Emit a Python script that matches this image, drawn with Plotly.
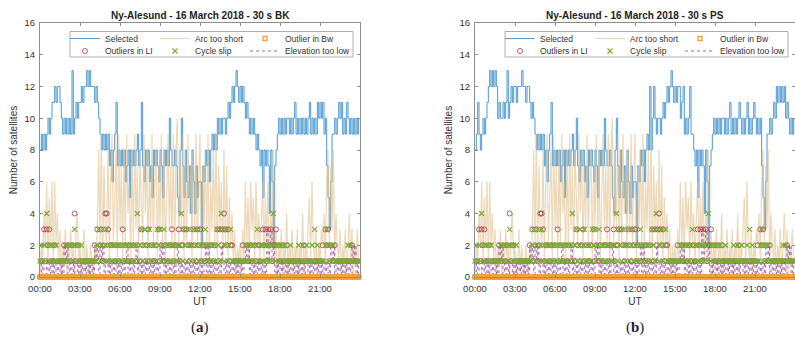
import pandas as pd
import plotly.graph_objects as go

# ---------------------------------------------------------------------------
# Data: satellite counts per 6-minute epoch, 16 March 2018, Ny-Alesund
# (10 values per hour, one row per hour)
# ---------------------------------------------------------------------------
sel_bk = [
    8, 9, 8, 9, 8, 9, 10, 9, 10, 11,
    11, 12, 11, 12, 12, 11, 10, 9, 10, 9,
    10, 9, 10, 9, 13, 9, 10, 11, 10, 11,
    11, 12, 11, 12, 12, 13, 12, 13, 12, 12,
    12, 11, 12, 11, 10, 9, 8, 9, 8, 9,
    8, 9, 7, 8, 6, 8, 9, 11, 7, 8,
    7, 8, 7, 8, 6, 7, 8, 5, 8, 7,
    8, 7, 8, 9, 7, 8, 11, 7, 6, 8,
    7, 8, 6, 7, 5, 8, 7, 8, 7, 6,
    8, 7, 5, 8, 7, 8, 7, 10, 8, 7,
    7, 8, 7, 5, 4, 8, 10, 7, 5, 8,
    6, 5, 7, 4, 8, 6, 4, 7, 5, 6,
    6, 2, 7, 6, 8, 7, 8, 6, 8, 9,
    8, 9, 8, 10, 9, 10, 9, 10, 10, 9,
    10, 11, 10, 11, 12, 11, 12, 13, 12, 11,
    12, 11, 12, 11, 10, 11, 10, 9, 10, 9,
    10, 9, 8, 9, 8, 7, 8, 5, 8, 7,
    8, 7, 4, 8, 6, 2, 7, 8, 9, 10,
    9, 10, 9, 10, 9, 10, 10, 9, 10, 9,
    10, 11, 9, 10, 9, 10, 9, 10, 9, 10,
    9, 10, 11, 9, 10, 9, 10, 9, 11, 10,
    11, 10, 11, 9, 10, 7, 5, 3, 6, 9,
    9, 10, 9, 10, 11, 10, 11, 9, 10, 9,
    11, 10, 9, 10, 9, 10, 9, 10, 9, 10,
]

sel_ps = [
    8, 9, 11, 9, 8, 9, 10, 9, 10, 11,
    12, 13, 12, 13, 12, 13, 12, 10, 11, 10,
    10, 11, 10, 11, 13, 10, 11, 12, 11, 12,
    12, 11, 12, 12, 12, 13, 12, 12, 11, 12,
    12, 11, 10, 11, 10, 9, 8, 9, 8, 9,
    8, 9, 7, 8, 6, 8, 9, 11, 7, 8,
    7, 8, 7, 8, 6, 7, 8, 5, 8, 7,
    8, 7, 8, 9, 7, 8, 10, 7, 6, 8,
    7, 8, 6, 7, 5, 8, 7, 8, 7, 6,
    8, 7, 5, 8, 7, 8, 7, 10, 8, 7,
    7, 8, 7, 5, 4, 8, 10, 7, 5, 8,
    6, 5, 7, 4, 8, 6, 4, 7, 5, 6,
    6, 2, 7, 6, 8, 7, 8, 6, 8, 9,
    8, 12, 8, 10, 12, 10, 9, 10, 10, 9,
    10, 11, 10, 11, 12, 11, 12, 13, 12, 11,
    12, 11, 12, 12, 10, 11, 12, 9, 10, 9,
    10, 12, 9, 9, 8, 7, 8, 5, 8, 7,
    8, 7, 4, 8, 6, 2, 7, 8, 9, 10,
    9, 10, 9, 10, 9, 10, 10, 9, 10, 9,
    10, 11, 9, 10, 9, 10, 9, 10, 11, 10,
    9, 10, 9, 10, 11, 9, 10, 9, 10, 11,
    10, 9, 10, 9, 10, 7, 5, 3, 6, 9,
    9, 10, 9, 10, 11, 10, 12, 11, 12, 11,
    12, 11, 12, 10, 11, 10, 9, 10, 9, 10,
]

arc_short = [
    0, 2, 1, 4, 2, 6, 1, 5, 2, 6,
    1, 6, 2, 4, 1, 3, 0, 2, 1, 3,
    0, 2, 1, 3, 1, 2, 0, 3, 4, 1,
    2, 0, 1, 3, 0, 2, 1, 0, 2, 1,
    0, 2, 1, 3, 8, 2, 9, 1, 7, 3,
    2, 8, 1, 6, 9, 2, 5, 8, 1, 9,
    3, 7, 1, 8, 2, 9, 4, 6, 1, 8,
    2, 9, 3, 7, 1, 8, 5, 2, 9, 4,
    8, 1, 7, 3, 9, 2, 6, 8, 1, 7,
    3, 9, 2, 8, 1, 6, 9, 3, 7, 2,
    9, 1, 8, 10, 2, 7, 3, 9, 1, 8,
    2, 9, 4, 7, 1, 8, 3, 9, 2, 6,
    9, 1, 7, 3, 8, 2, 9, 1, 6, 3,
    8, 2, 9, 1, 7, 3, 6, 1, 8, 2,
    7, 1, 5, 2, 4, 1, 3, 0, 2, 1,
    2, 0, 3, 1, 6, 2, 5, 1, 6, 3,
    5, 1, 6, 2, 4, 1, 3, 6, 1, 5,
    2, 6, 1, 4, 2, 8, 1, 3, 0, 2,
    1, 3, 0, 2, 1, 4, 0, 2, 1, 3,
    0, 2, 1, 3, 0, 2, 1, 4, 0, 2,
    1, 3, 5, 1, 6, 2, 1, 3, 0, 2,
    1, 3, 2, 4, 1, 6, 8, 2, 7, 3,
    8, 1, 4, 2, 1, 3, 0, 2, 1, 3,
    0, 2, 4, 1, 3, 0, 2, 1, 3, 1,
]

elev_low = [
    0, 1, 0, 1, 1, 0, 1, 0, 1, 0,
    1, 0, 1, 0, 1, 0, 1, 0, 2, 1,
    2, 0, 1, 0, 1, 0, 1, 1, 0, 1,
    0, 1, 0, 1, 0, 1, 0, 1, 0, 1,
    0, 2, 1, 2, 0, 2, 1, 2, 0, 1,
    1, 0, 1, 0, 1, 0, 1, 0, 1, 0,
    1, 0, 1, 0, 1, 2, 0, 1, 0, 1,
    0, 1, 2, 0, 1, 0, 1, 0, 1, 0,
    1, 0, 1, 0, 1, 0, 1, 0, 1, 0,
    2, 1, 2, 0, 1, 0, 1, 0, 1, 0,
    1, 0, 1, 2, 0, 1, 0, 1, 0, 1,
    0, 1, 0, 1, 0, 1, 0, 1, 0, 1,
    0, 1, 0, 1, 2, 0, 2, 0, 1, 0,
    1, 0, 1, 0, 1, 0, 2, 1, 0, 1,
    0, 1, 0, 1, 0, 1, 0, 1, 0, 1,
    0, 1, 0, 1, 2, 1, 2, 0, 1, 0,
    1, 0, 1, 0, 1, 0, 1, 0, 1, 0,
    3, 1, 2, 3, 1, 2, 0, 1, 0, 1,
    0, 1, 0, 1, 0, 1, 0, 1, 0, 1,
    0, 1, 0, 1, 0, 1, 0, 1, 0, 1,
    1, 0, 1, 0, 1, 0, 1, 0, 1, 0,
    1, 0, 1, 0, 1, 0, 1, 0, 2, 1,
    2, 0, 1, 0, 1, 0, 1, 0, 1, 0,
    1, 0, 1, 0, 2, 1, 2, 0, 1, 0,
]

outlier_bw = [
    0, 0, 0, 0, 0, 0, 0, 0, 0, 0,
    0, 0, 0, 0, 0, 0, 0, 0, 0, 0,
    0, 0, 0, 0, 0, 0, 0, 0, 0, 0,
    0, 0, 0, 0, 0, 0, 0, 0, 0, 0,
    0, 0, 0, 0, 0, 0, 0, 0, 0, 0,
    0, 0, 0, 0, 0, 0, 0, 0, 0, 0,
    0, 0, 0, 0, 0, 0, 0, 0, 0, 0,
    0, 0, 0, 0, 0, 0, 0, 0, 0, 0,
    0, 0, 0, 0, 0, 0, 0, 0, 0, 0,
    0, 0, 0, 0, 0, 0, 0, 0, 0, 0,
    0, 0, 0, 0, 0, 0, 0, 0, 0, 0,
    0, 0, 0, 0, 0, 0, 0, 0, 0, 0,
    0, 0, 0, 0, 0, 0, 0, 0, 0, 0,
    0, 0, 0, 0, 0, 0, 0, 0, 0, 0,
    0, 0, 0, 0, 0, 0, 0, 0, 0, 0,
    0, 0, 0, 0, 0, 0, 0, 0, 0, 0,
    0, 0, 0, 0, 0, 0, 0, 0, 0, 0,
    0, 0, 0, 0, 0, 0, 0, 0, 0, 0,
    0, 0, 0, 0, 0, 0, 0, 0, 0, 0,
    0, 0, 0, 0, 0, 0, 0, 0, 0, 0,
    0, 0, 0, 0, 0, 0, 0, 0, 0, 0,
    0, 0, 0, 0, 0, 0, 0, 0, 0, 0,
    0, 0, 0, 0, 0, 0, 0, 0, 0, 0,
    0, 0, 0, 0, 0, 0, 0, 0, 0, 0,
]

outlier_li = [
    0, 1, 0, 3, 1, 3, 2, 3, 1, 0,
    1, 2, 0, 1, 0, 1, 0, 1, 2, 0,
    1, 2, 0, 1, 2, 0, 4, 1, 2, 0,
    1, 0, 1, 0, 1, 0, 1, 0, 1, 0,
    1, 2, 0, 3, 1, 2, 3, 1, 2, 4,
    4, 3, 1, 2, 2, 0, 1, 2, 0, 1,
    2, 0, 3, 1, 2, 0, 1, 2, 0, 1,
    2, 0, 1, 2, 0, 1, 3, 2, 0, 1,
    2, 3, 1, 0, 2, 1, 1, 2, 0, 3,
    1, 2, 0, 1, 2, 0, 1, 2, 2, 3,
    1, 2, 2, 0, 3, 1, 2, 2, 3, 0,
    3, 2, 1, 2, 0, 3, 2, 1, 3, 2,
    3, 1, 2, 0, 1, 2, 0, 1, 2, 0,
    1, 2, 0, 3, 1, 3, 2, 3, 4, 3,
    2, 3, 1, 2, 2, 0, 1, 0, 1, 0,
    1, 0, 2, 1, 0, 2, 1, 0, 2, 1,
    0, 2, 1, 0, 2, 1, 0, 3, 2, 3,
    1, 3, 2, 3, 1, 2, 2, 3, 0, 2,
    1, 0, 2, 1, 0, 2, 1, 0, 1, 0,
    1, 0, 1, 0, 1, 0, 1, 0, 2, 1,
    0, 1, 0, 1, 0, 1, 0, 1, 0, 1,
    0, 1, 2, 0, 3, 2, 3, 1, 2, 0,
    1, 2, 0, 1, 0, 1, 0, 1, 0, 1,
    0, 1, 0, 1, 2, 0, 1, 0, 1, 0,
]

cycle_slip = [
    1, 2, 1, 2, 1, 4, 2, 1, 2, 1,
    2, 1, 2, 1, 1, 1, 1, 1, 1, 2,
    1, 2, 1, 2, 1, 2, 3, 2, 1, 2,
    1, 2, 1, 1, 1, 1, 1, 1, 1, 1,
    1, 1, 1, 2, 3, 1, 2, 3, 1, 2,
    3, 1, 2, 1, 2, 1, 2, 1, 2, 1,
    2, 1, 2, 1, 2, 1, 2, 1, 2, 1,
    2, 1, 2, 4, 1, 2, 3, 1, 2, 3,
    1, 2, 3, 1, 2, 1, 2, 1, 3, 2,
    3, 1, 2, 3, 1, 2, 1, 2, 1, 2,
    1, 2, 1, 2, 1, 2, 4, 1, 3, 2,
    1, 3, 2, 1, 2, 3, 1, 2, 3, 1,
    2, 1, 2, 1, 3, 2, 1, 2, 1, 2,
    1, 2, 1, 3, 2, 1, 4, 3, 1, 2,
    3, 1, 2, 3, 1, 1, 1, 1, 1, 1,
    1, 1, 1, 1, 2, 1, 2, 1, 2, 1,
    2, 1, 2, 3, 1, 2, 1, 2, 1, 2,
    1, 2, 1, 2, 1, 4, 2, 1, 2, 1,
    2, 1, 2, 1, 2, 1, 1, 1, 2, 1,
    1, 1, 1, 1, 2, 1, 1, 2, 1, 1,
    2, 1, 1, 1, 2, 1, 3, 1, 2, 1,
    1, 1, 1, 1, 2, 3, 2, 1, 2, 1,
    2, 1, 1, 1, 1, 1, 1, 1, 1, 1,
    1, 2, 1, 2, 1, 1, 1, 1, 1, 1,
]

tick_times = ["2018-03-16 00:00", "2018-03-16 03:00", "2018-03-16 06:00",
              "2018-03-16 09:00", "2018-03-16 12:00", "2018-03-16 15:00",
              "2018-03-16 18:00", "2018-03-16 21:00"]
tick_labels = ["00:00", "03:00", "06:00", "09:00", "12:00", "15:00", "18:00", "21:00"]
y_ticks = [0, 2, 4, 6, 8, 10, 12, 14, 16]

panel_titles = ["Ny-Alesund - 16 March 2018 - 30 s BK",
                "Ny-Alesund - 16 March 2018 - 30 s PS"]
panel_letters = ["a", "b"]

epochs = pd.date_range("2018-03-16 00:00", periods=len(sel_bk), freq="6min")

# ---------------------------------------------------------------------------
# Styling
# ---------------------------------------------------------------------------
W, H = 795, 352
FONT = "Liberation Sans, Arial, sans-serif"
C_SEL = "#1a7cc4"
C_ARC = "rgba(224,192,138,0.6)"
C_BW = "#F0A23A"
C_LI = "#A8283A"
C_SLIP = "#77AC30"
C_ELEV = "#7E2F8E"
AX_COL = "#8e8e8e"
TXT = "#333333"

# pixel geometry of the two axes boxes
plot_top, plot_bottom = 23, 277
panels_px = [(40, 360), (475, 795)]

fig = go.Figure()

for k, (sel, (px0, px1)) in enumerate(zip([sel_bk, sel_ps], panels_px)):
    xa = "x" if k == 0 else "x2"
    ya = "y" if k == 0 else "y2"
    lg_top = "legend" if k == 0 else "legend3"
    lg_bot = "legend2" if k == 0 else "legend4"

    fig.add_trace(go.Scatter(
        x=epochs, y=sel, name="Selected", mode="lines", line_shape="hv",
        line=dict(color=C_SEL, width=0.9), opacity=0.85,
        xaxis=xa, yaxis=ya, legend=lg_top, legendrank=1))
    fig.add_trace(go.Scatter(
        x=epochs, y=arc_short, name="Arc too short", mode="lines",
        line=dict(color=C_ARC, width=1.2),
        xaxis=xa, yaxis=ya, legend=lg_top, legendrank=2))
    fig.add_trace(go.Scatter(
        x=epochs, y=elev_low, name="Elevation too low", mode="lines", line_shape="hv",
        line=dict(color=C_ELEV, width=0.9, dash="dot"), opacity=0.8,
        xaxis=xa, yaxis=ya, legend=lg_bot, legendrank=3))
    fig.add_trace(go.Scatter(
        x=epochs, y=outlier_li, name="Outliers in LI", mode="markers",
        marker=dict(symbol="circle-open", size=5, color=C_LI, line=dict(width=0.9)),
        opacity=0.85, cliponaxis=False, xaxis=xa, yaxis=ya, legend=lg_bot, legendrank=1))
    fig.add_trace(go.Scatter(
        x=epochs, y=outlier_bw, name="Outlier in Bw", mode="markers",
        marker=dict(symbol="square-open", size=4, color=C_BW, line=dict(width=1.3)),
        cliponaxis=False, xaxis=xa, yaxis=ya, legend=lg_top, legendrank=3))
    fig.add_trace(go.Scatter(
        x=epochs, y=cycle_slip, name="Cycle slip", mode="markers",
        marker=dict(symbol="x-thin-open", size=5, color=C_SLIP, line=dict(width=1.1)),
        cliponaxis=False, xaxis=xa, yaxis=ya, legend=lg_bot, legendrank=2))
    # empty trailing entry so the last legend label keeps its full width
    for lg in (lg_top, lg_bot):
        fig.add_trace(go.Scatter(
            x=[None], y=[None], name="", mode="lines",
            line=dict(color="rgba(0,0,0,0)"), hoverinfo="skip",
            xaxis=xa, yaxis=ya, legend=lg, legendrank=9))

axis_common = dict(showgrid=False, zeroline=False, showline=True, linecolor=AX_COL,
                   linewidth=1, mirror="ticks", ticks="inside", ticklen=3,
                   tickcolor=AX_COL, automargin=False,
                   tickfont=dict(family=FONT, size=9.5, color=TXT))

y_dom = [(H - plot_bottom) / H, (H - plot_top) / H]
layout_axes = {}
for k, (px0, px1) in enumerate(panels_px):
    sx = "" if k == 0 else "2"
    layout_axes["xaxis" + sx] = dict(
        axis_common, domain=[px0 / W, px1 / W], anchor="y" + sx,
        range=["2018-03-16 00:00", "2018-03-17 00:00"], type="date",
        tickvals=tick_times, ticktext=tick_labels, ticklabelstandoff=3,
        title=dict(text="UT", font=dict(family=FONT, size=10, color=TXT), standoff=4))
    layout_axes["yaxis" + sx] = dict(
        axis_common, domain=y_dom, anchor="x" + sx, range=[0, 16],
        tickvals=y_ticks, ticklabelstandoff=2,
        title=dict(text="Number of satellites", font=dict(family=FONT, size=10, color=TXT),
                   standoff=5))

# legends: two rows of three entries per panel
legend_font = dict(family=FONT, size=8.5, color=TXT)
legends = {}
for k, (px0, px1) in enumerate(panels_px):
    names = ("legend", "legend2") if k == 0 else ("legend3", "legend4")
    for name, ypx in zip(names, (38.5, 51)):
        legends[name] = dict(
            orientation="h", x=(px0 + 25) / W, xanchor="left",
            y=(H - ypx) / H, yanchor="middle",
            bgcolor="rgba(0,0,0,0)", borderwidth=0, font=legend_font,
            entrywidth=45, itemwidth=30, tracegroupgap=0)

shapes = []
annotations = []
for k, (px0, px1) in enumerate(panels_px):
    # legend frame
    shapes.append(dict(type="rect", xref="paper", yref="paper",
                       x0=(px0 + 30) / W, x1=(px0 + 313) / W,
                       y0=(H - 57) / H, y1=(H - 31.5) / H,
                       fillcolor="white", line=dict(color="#9a9a9a", width=0.8),
                       layer="above"))
    cx = (px0 + px1) / 2 / W
    annotations.append(dict(text="<b>%s</b>" % panel_titles[k], xref="paper", yref="paper",
                            x=cx, y=(H - 16) / H, xanchor="center", yanchor="middle",
                            showarrow=False,
                            font=dict(family=FONT, size=10, color="#222222")))
    annotations.append(dict(text="(<b>%s</b>)" % panel_letters[k],
                            xref="paper", yref="paper",
                            x=cx, y=(H - 327) / H, xanchor="center", yanchor="middle",
                            showarrow=False,
                            font=dict(family="Liberation Serif, serif", size=15, color="#222222")))

fig.update_layout(
    template="none",
    width=W, height=H, margin=dict(l=0, r=0, t=0, b=0, autoexpand=False),
    paper_bgcolor="white", plot_bgcolor="white",
    font=dict(family=FONT, color=TXT), hovermode=False,
    shapes=shapes, annotations=annotations,
    **layout_axes, **legends,
)

fig.write_html("out.html")
